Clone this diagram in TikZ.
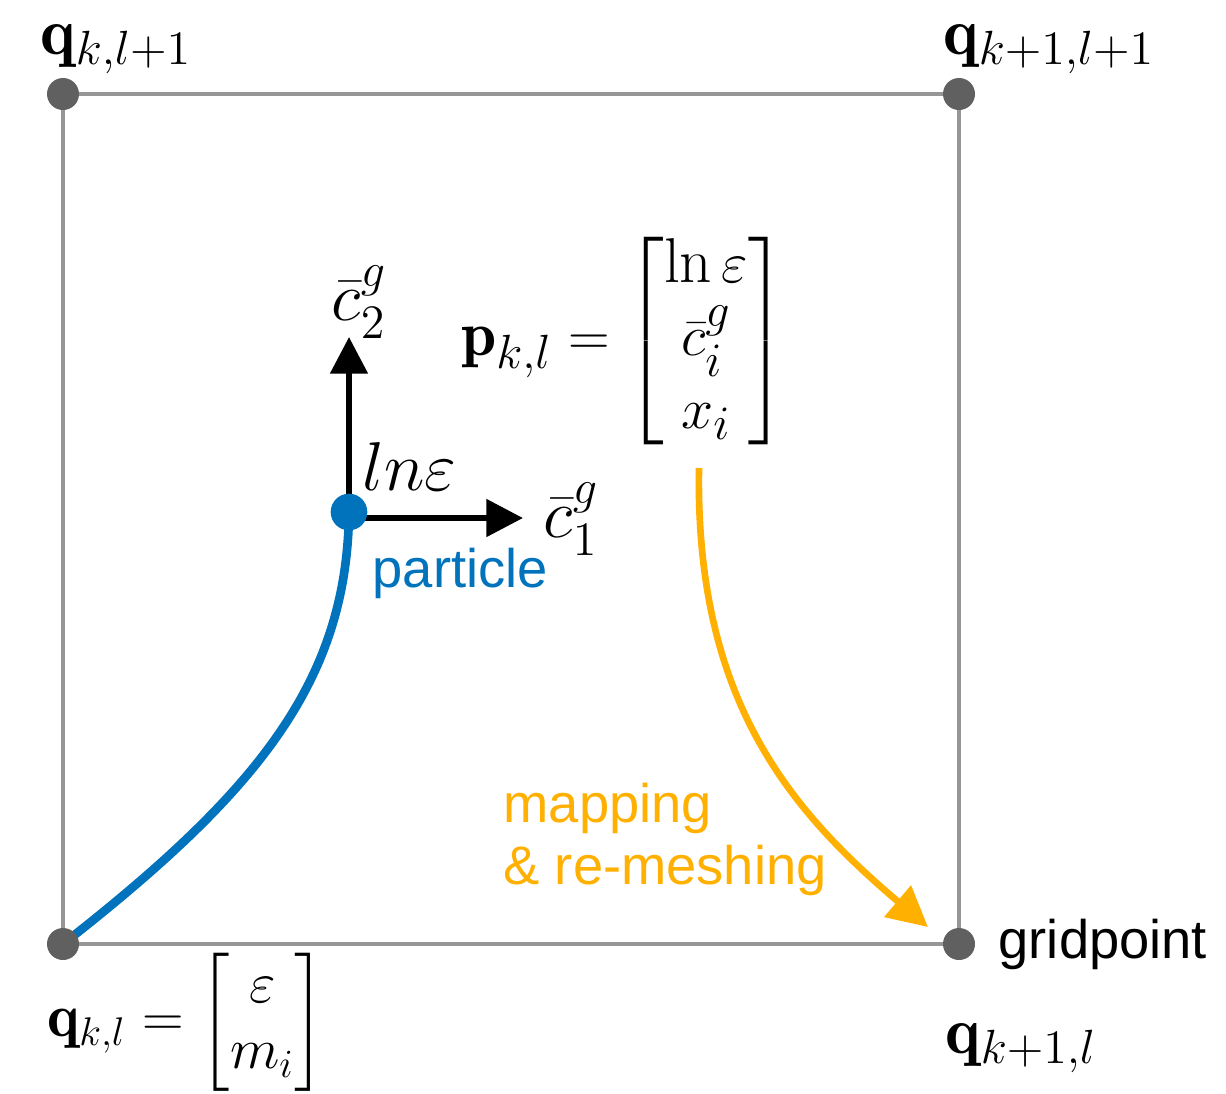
\documentclass[tikz,border=0pt]{standalone}
\usepackage{amsmath}
\usepackage{fontspec}
\newfontfamily\helv{Liberation Sans}
\usetikzlibrary{arrows.meta}
\definecolor{pblue}{RGB}{0,115,188}
\definecolor{morange}{RGB}{255,176,0}
\definecolor{gline}{RGB}{150,150,150}
\definecolor{gdot}{RGB}{96,96,96}
\begin{document}
\begin{tikzpicture}[x=0.3pt,y=-0.3pt,
  gridline/.style={draw=gline,line width=1.2pt},
  griddot/.style={circle,fill=gdot,inner sep=0pt,minimum size=9.6pt},
  pdot/.style={circle,fill=pblue,inner sep=0pt,minimum size=11pt},
  axisarrow/.style={draw=black,line width=1.8pt,-{Triangle[width=11pt,length=11pt]}},
  maparrow/.style={draw=morange,line width=2pt,-{Triangle[width=12pt,length=12pt]}},
  pathline/.style={draw=pblue,line width=2.6pt},
  mlabel/.style={inner sep=0pt,font=\fontsize{20}{24}\selectfont},
  slabel/.style={inner sep=0pt,font=\fontsize{16.3}{18.6}\selectfont\helv},
]
\useasboundingbox (0,0) rectangle (1226,1093);
% grid cell corners
\coordinate (c00) at (63,944);
\coordinate (c10) at (959,944);
\coordinate (c01) at (63,94);
\coordinate (c11) at (959,94);
\draw[gridline] (c00) -- (c10) -- (c11) -- (c01) -- cycle;

% axes at particle
\coordinate (porig) at (349,512);
\coordinate (hstart) at (349,518);
\coordinate (c2tip) at (349,337);
\coordinate (c1tip) at (523,518);
\draw[axisarrow] (porig) -- (c2tip);
\draw[axisarrow] (hstart) -- (c1tip);

% particle path
\draw[pathline] (porig) .. controls (347,680) and (260,790) .. (c00);
\node[pdot] (part) at (porig) {};

% mapping arrow
\coordinate (mapstart) at (699,468);
\coordinate (mapend) at (928,927);
\draw[maparrow] (mapstart) .. controls (695,700) and (790,810) .. (mapend);

% grid points
\node[griddot] (g00) at (c00) {};
\node[griddot] (g10) at (c10) {};
\node[griddot] (g01) at (c01) {};
\node[griddot] (g11) at (c11) {};

% corner labels
\node[mlabel,anchor=base west] (l01) at (40,54) {$\mathbf{q}_{k,l+1}$};
\node[mlabel,anchor=base west] (l11) at (943,54) {$\mathbf{q}_{k+1,l+1}$};
\node[mlabel,anchor=base west] (l10) at (945,1053) {$\mathbf{q}_{k+1,l}$};
\node[inner sep=0pt,font=\fontsize{18.3}{20}\selectfont] (l00) at (186,1022)
  {$\mathbf{q}_{k,l} = \begin{bmatrix}\varepsilon\\ m_i\end{bmatrix}$};

% axis labels
\node[mlabel,anchor=base west] (lc2) at (331,320) {$\bar{c}_2^g$};
\node[mlabel,anchor=base west] (lln) at (362,490) {$ln\varepsilon$};
\node[mlabel,anchor=base west] (lc1) at (543,537) {$\bar{c}_1^g$};

% particle vector
\node[inner sep=0pt,font=\fontsize{19}{21.8}\selectfont] (pmat) at (624,341)
  {$\mathbf{p}_{k,l} = \begin{bmatrix}\ln\varepsilon\\ \bar{c}_i^g\\ x_i\end{bmatrix}$};

% text labels
\node[slabel,anchor=base west,text=pblue] (tpart) at (372,587) {particle};
\node[slabel,anchor=base west] (tgrid) at (998,958) {gridpoint};
\node[slabel,anchor=base west,text=morange] (tmap1) at (503,822) {mapping};
\node[slabel,anchor=base west,text=morange] (tmap2) at (503,884) {\& re-meshing};
\end{tikzpicture}
\end{document}
